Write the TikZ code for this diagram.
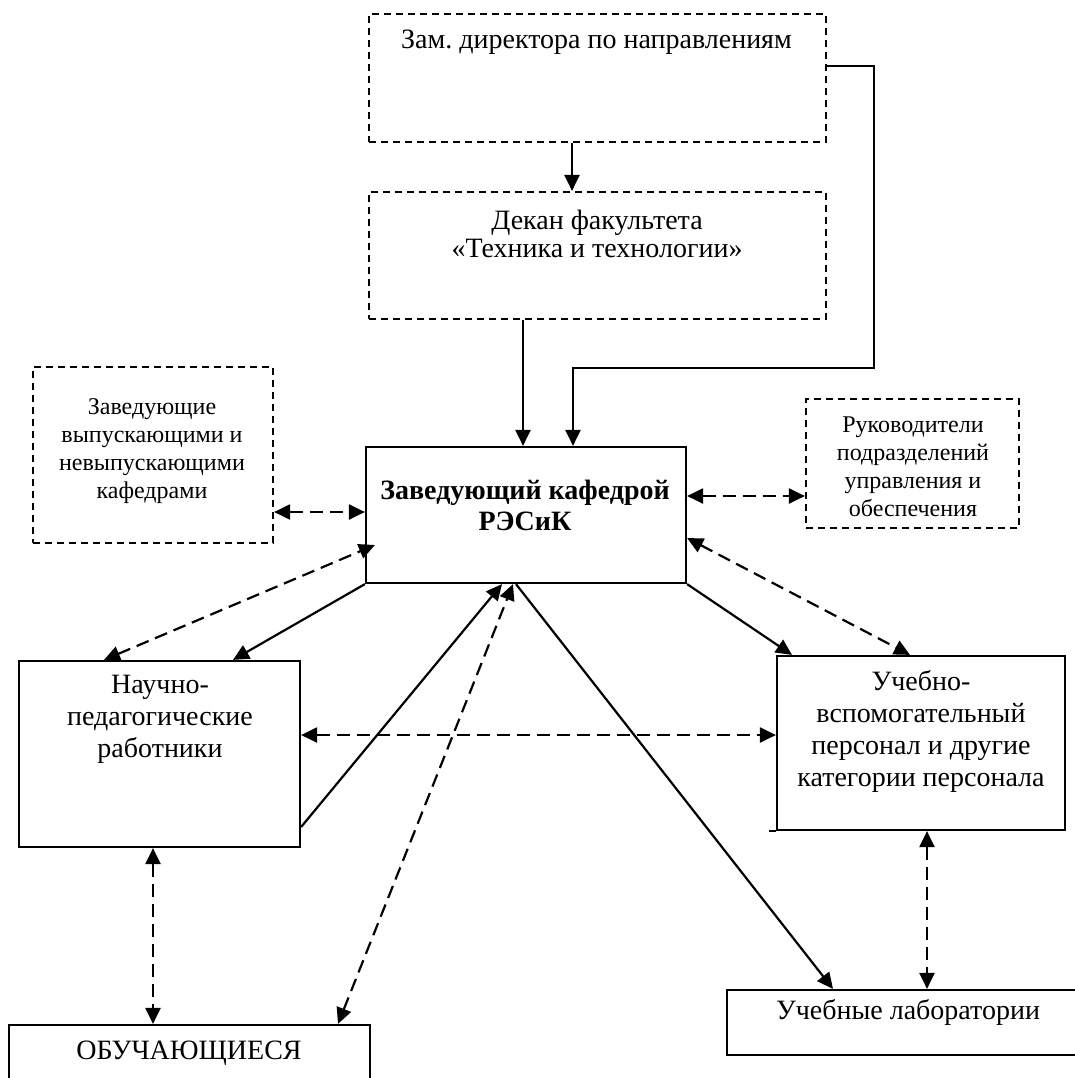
\documentclass[tikz,border=0pt]{standalone}
\usepackage{fontspec}
\setmainfont{Liberation Serif}
\frenchspacing
\usetikzlibrary{arrows.meta}

\tikzset{
	box/.style={draw, line width=1.1pt, inner sep=0pt},
	dbox/.style={box, dash pattern=on 3.7pt off 2.3pt},
	txt/.style={align=center, inner sep=0pt, font=\fontsize{14}{16}\selectfont},
	smalltxt/.style={txt, font=\fontsize{12}{14}\selectfont},
	link/.style={line width=1.1pt},
	dlink/.style={link, dash pattern=on 6.5pt off 3.5pt},
}

\begin{document}
\begin{tikzpicture}[x=0.5pt, y=-0.5pt, >={Triangle[length=8pt, width=7.5pt]}]
	\clip (0,0) rectangle (1075,1078);
	% boxes
	\node [dbox, minimum width=228.5pt, minimum height=64pt] (zam) at (597.5,78) {};
	\node [dbox, minimum width=228.5pt, minimum height=63.5pt] (dekan) at (597.5,255.5) {};
	\node [dbox, minimum width=120pt, minimum height=88pt] (zav) at (153,455) {};
	\node [box, minimum width=160pt, minimum height=68pt] (main) at (526,515) {};
	\node [dbox, minimum width=106.5pt, minimum height=64.5pt] (ruk) at (912.5,463.5) {};
	\node [box, minimum width=140.5pt, minimum height=93pt] (nauch) at (159.5,754) {};
	\node [box, minimum width=144pt, minimum height=87pt] (uch) at (921,743) {};
	\node [box, minimum width=180.5pt, minimum height=42.5pt] (obuch) at (189.5,1067.5) {};
	\node [box, minimum width=186.5pt, minimum height=32.5pt] (labs) at (913.5,1022.5) {};
	% texts
	\node [txt] (zamtext) at (596.5,42) {Зам. директора по направлениям};
	\node [txt, font=\fontsize{14}{14}\selectfont] (dekantext) at (597,234) {Декан факультета\\«Техника и технологии»};
	\node [smalltxt] (zavtext) at (152,451) {Заведующие\\выпускающими и\\невыпускающими\\кафедрами};
	\node [txt, font=\fontsize{14}{15.5}\selectfont\bfseries] (maintext) at (525,505) {Заведующий кафедрой\\РЭСиК};
	\node [smalltxt] (ruktext) at (913,467) {Руководители\\подразделений\\управления и\\обеспечения};
	\node [txt] (nauchtext) at (160,719) {Научно-\\педагогические\\работники};
	\node [txt] (uchtext) at (921,731) {Учебно-\\вспомогательный\\персонал и другие\\категории персонала};
	\node [txt] (obuchtext) at (189,1053) {ОБУЧАЮЩИЕСЯ};
	\node [txt] (labstext) at (908,1012) {Учебные лаборатории};
	% vertical links
	\coordinate (bend) at (874,368);
	\draw [link, ->] ([xshift=-12.75pt]zam.south) -- ([xshift=-12.75pt]dekan.north);
	\draw [link, ->] ([xshift=-37.25pt]dekan.south) -- ([xshift=-37.25pt]dekan.south |- main.north);
	\draw [link, ->] ([yshift=6pt]zam.east) -| (bend) -| ([xshift=23.5pt]main.north);
	\draw [dlink, <->] ([yshift=-28.5pt]zav.east) -- ([yshift=-28.5pt]zav.east -| main.west);
	\draw [dlink, <->] ([yshift=9.5pt]main.east) -- ([yshift=9.5pt]main.east -| ruk.west);
	% main to staff
	\draw [link, ->] (main.south west) -- ([xshift=36.75pt]nauch.north);
	\draw [dlink, <->] ([xshift=-27.75pt]nauch.north) -- ([xshift=5pt, yshift=-15pt]main.west);
	\draw [link, ->] ([yshift=-36.5pt]nauch.east) -- ([xshift=-12pt]main.south);
	\draw [dlink, <->] ([xshift=74.25pt]obuch.north) -- ([xshift=-6.5pt]main.south);
	\draw [link, ->] ([xshift=-5pt]main.south) -- ([xshift=-40.25pt]labs.north);
	\draw [link, ->] (main.south east) -- ([xshift=-64.5pt]uch.north);
	\draw [dlink, <->] ([yshift=-11.5pt]main.east) -- ([xshift=-5.5pt]uch.north);
	% between staff
	\draw [dlink, <->] ([yshift=9.5pt]nauch.east) -- ([yshift=9.5pt]nauch.east -| uch.west);
	\draw [dlink, <->] ([xshift=-3.25pt]nauch.south) -- ([xshift=-3.25pt]nauch.south |- obuch.north);
	\draw [dlink, <->] ([xshift=3pt]uch.south) -- ([xshift=3pt]uch.south |- labs.north);
	\draw [link] (uch.south west) -- ++(-7,0);
\end{tikzpicture}
\end{document}
